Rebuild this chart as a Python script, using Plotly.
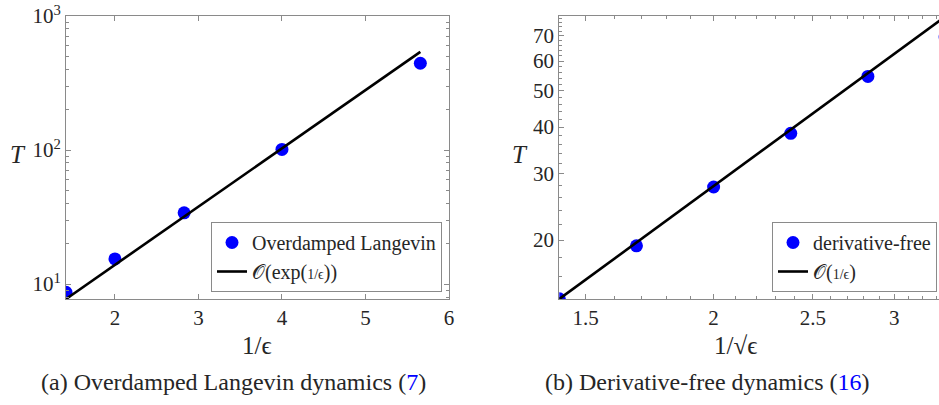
import plotly.graph_objects as go
import numpy as np

# ---- data ----
# Panel (a): Overdamped Langevin, x = 1/eps (linear), T log scale
a_x = [1.4142, 2.0, 2.8284, 4.0, 5.6569]
a_T = [8.67, 15.4, 34.0, 101.0, 444.0]
a_fit_x = [1.4142, 5.6569]
a_fit_T = [7.73, 540.0]

# Panel (b): derivative-free, x = 1/sqrt(eps) (log), T log scale
b_x = [1.4142, 1.6818, 2.0, 2.3784, 2.8284, 3.3636]
b_T = [13.95, 19.3, 27.7, 38.5, 54.6, 69.6]
b_fit_x = [1.4142, 3.5]
b_fit_T = [13.93, 85.3]

a_xticks = [2, 3, 4, 5, 6]
a_yticks = [10, 100, 1000]
a_yticktext = ["10<sup>1</sup>", "10<sup>2</sup>", "10<sup>3</sup>"]
b_xticks = [1.5, 2, 2.5, 3]
b_xticktext = ["1.5", "2", "2.5", "3"]
b_yticks = [20, 30, 40, 50, 60, 70]

FONT = "Liberation Serif"
BLUE = "#0000ff"
FRAME = "#8a8a8a"
TXT = "#262626"

W, H = 939, 405
# pixel layout of plot areas
aL, aR = 66, 449
bL, bR = 559.3, 939
top, bot = 16, 299

fig = go.Figure()

fig.add_trace(go.Scatter(x=a_x, y=a_T, mode="markers", name="Overdamped Langevin",
                         marker=dict(color=BLUE, size=13), xaxis="x", yaxis="y",
                         legend="legend"))
fig.add_trace(go.Scatter(x=a_fit_x, y=a_fit_T, mode="lines",
                         name="𝒪(exp(<span style='font-size:14px'>1/ϵ</span>))",
                         line=dict(color="black", width=2.6), xaxis="x", yaxis="y",
                         legend="legend"))
fig.add_trace(go.Scatter(x=b_x, y=b_T, mode="markers", name="derivative-free",
                         marker=dict(color=BLUE, size=13), xaxis="x2", yaxis="y2",
                         legend="legend2"))
fig.add_trace(go.Scatter(x=b_fit_x, y=b_fit_T, mode="lines",
                         name="𝒪(<span style='font-size:14px'>1/ϵ</span>)",
                         line=dict(color="black", width=2.6), xaxis="x2", yaxis="y2",
                         legend="legend2"))

ydom = [1 - bot / H, 1 - top / H]

# minor ticks
a_minor_y = [m * 10 ** d for d in (0, 1, 2) for m in range(2, 10) if 7.7 < m * 10 ** d < 1000]
b_minor_y = [v for v in range(14, 80, 2) if v not in b_yticks]
b_minor_x = [round(v, 1) for v in np.arange(1.5, 3.35, 0.1) if round(v, 1) not in b_xticks]

axis_common = dict(showgrid=False, zeroline=False, showline=True, linecolor=FRAME,
                   linewidth=1, ticks="inside", tickcolor=FRAME, ticklen=5,
                   automargin=False,
                   tickfont=dict(family=FONT, size=21, color=TXT))

fig.update_layout(
    template="none",
    width=W, height=H,
    margin=dict(l=0, r=0, t=0, b=0, autoexpand=False),
    paper_bgcolor="white", plot_bgcolor="white",
    font=dict(family=FONT, color=TXT),
    xaxis=dict(domain=[aL / W, aR / W], range=[1.4142, 6], tickvals=a_xticks,
               mirror="ticks", anchor="y", **axis_common),
    yaxis=dict(domain=ydom, type="log", range=[np.log10(7.73), 3], tickvals=a_yticks,
               ticktext=a_yticktext, mirror="ticks", anchor="x",
               minor=dict(tickvals=a_minor_y, ticks="inside", ticklen=3, tickcolor=FRAME),
               **axis_common),
    xaxis2=dict(domain=[bL / W, bR / W], type="log",
                range=[np.log10(1.4142), np.log10(3.318)], tickvals=b_xticks,
                ticktext=b_xticktext, mirror="ticks", anchor="y2",
                minor=dict(tickvals=b_minor_x, ticks="inside", ticklen=3, tickcolor=FRAME),
                **axis_common),
    yaxis2=dict(domain=ydom, type="log", range=[np.log10(13.93), np.log10(79.1)],
                tickvals=b_yticks, mirror=False, anchor="x2",
                minor=dict(tickvals=b_minor_y, ticks="inside", ticklen=3, tickcolor=FRAME),
                **axis_common),
    legend=dict(x=442 / W, y=1 - 292 / H, xanchor="right", yanchor="bottom",
                bgcolor="white", bordercolor=FRAME, borderwidth=1,
                font=dict(family=FONT, size=20, color=TXT), itemwidth=30,
                tracegroupgap=0),
    legend2=dict(x=937 / W, y=1 - 292 / H, xanchor="right", yanchor="bottom",
                 bgcolor="white", bordercolor=FRAME, borderwidth=1,
                 font=dict(family=FONT, size=20, color=TXT), itemwidth=30,
                 tracegroupgap=0),
    showlegend=True,
)

ann = []
def add_text(txt, xpx, ypx, size, italic=False):
    if italic:
        txt = "<i>" + txt + "</i>"
    ann.append(dict(text=txt, x=xpx / W, y=1 - ypx / H, xref="paper", yref="paper",
                    showarrow=False, xanchor="center", yanchor="middle",
                    font=dict(family=FONT, size=size, color=TXT)))

add_text("T", 18, 155, 25, italic=True)
add_text("T", 520, 155, 25, italic=True)
add_text("1/ϵ", 257, 345, 25)
add_text("1/√ϵ", 735, 345, 25)
add_text("(a) Overdamped Langevin dynamics (<span style='color:#0000ff'>7</span>)", 233, 382, 24)
add_text("(b) Derivative-free dynamics (<span style='color:#0000ff'>16</span>)", 707, 382, 24)
fig.update_layout(annotations=ann)

fig.write_html("out.html")
